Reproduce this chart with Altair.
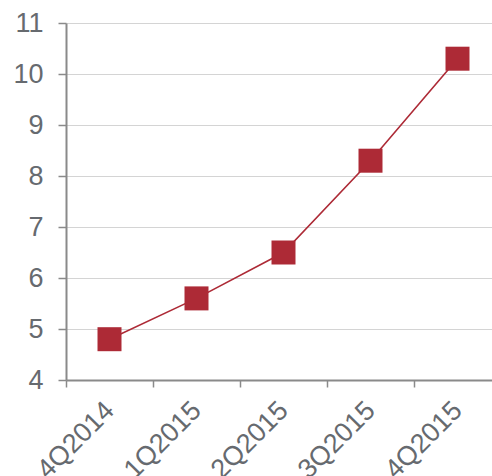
import altair as alt
import pandas as pd

quarters = ["4Q2014", "1Q2015", "2Q2015", "3Q2015", "4Q2015"]
values = [4.8, 5.6, 6.5, 8.3, 10.3]

df = pd.DataFrame({"q": quarters, "v": values})

RED = "#ad2a36"
GRAY_TXT = "#666a6f"

x = alt.X("q:N", sort=quarters, title=None,
          scale=alt.Scale(range=[0, 435], paddingInner=0, paddingOuter=0),
          axis=alt.Axis(labelAngle=-45, labelAlign="right", labelBaseline="middle",
                        labelFontSize=27, labelColor=GRAY_TXT, labelFont="Liberation Sans",
                        labelPadding=19, tickBand="extent", tickSize=7, tickWidth=1.5,
                        tickColor="#8a8a8a", domainColor="#8a8a8a", domainWidth=2,
                        grid=False))
y = alt.Y("v:Q", title=None,
          scale=alt.Scale(domain=[4, 11], nice=False, zero=False),
          axis=alt.Axis(values=[4, 5, 6, 7, 8, 9, 10, 11], labelFontSize=27,
                        labelColor=GRAY_TXT, labelFont="Liberation Sans", labelPadding=15,
                        tickSize=8, tickWidth=1.5, tickColor="#8a8a8a",
                        domainColor="#8a8a8a", domainWidth=2,
                        gridColor="#d4d4d4", gridWidth=1.2))

line = alt.Chart(df).mark_line(color=RED, strokeWidth=1.6).encode(x=x, y=y)
pts = alt.Chart(df).mark_point(shape="square", filled=True, color=RED, size=576, opacity=1).encode(x=x, y=y)

chart = (line + pts).properties(
    width=426, height=357,
    autosize=alt.AutoSizeParams(type="none"),
    padding={"left": 66, "right": 0, "top": 23, "bottom": 96},
).configure_view(stroke=None)

chart.save("out.html", embed_options={"renderer": "svg", "actions": False})
